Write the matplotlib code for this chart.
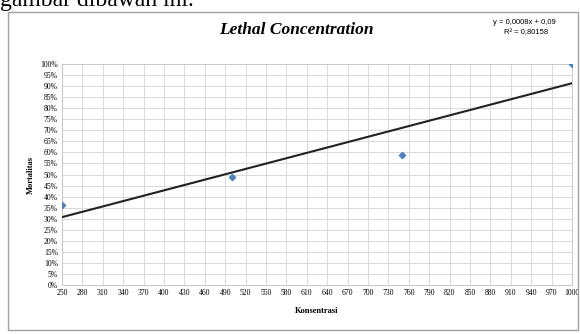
import matplotlib.pyplot as plt
from matplotlib.patches import Rectangle
import numpy as np

# Daten
konsentrasi = [250, 500, 750, 1000]
mortalitas = [0.36, 0.49, 0.59, 1.00]

x_ticks = list(range(250, 1000, 30)) + [1000]
y_ticks = [i / 100 for i in range(0, 101, 5)]

fig = plt.figure(figsize=(5.8, 3.34), dpi=100)

# abgeschnittene Textzeile oben
fig.text(0.0, 1 - 6 / 334, 'gambar dibawah ini.', fontsize=17, family='Liberation Serif',
         ha='left', va='baseline')

# Rahmen des Diagramms
fig.patches.append(Rectangle((8 / 580, 1 - 330 / 334), 570 / 580, 318 / 334,
                             transform=fig.transFigure, fill=False,
                             edgecolor='#a0a0a0', linewidth=1))

ax = fig.add_axes([62 / 580, 1 - 285 / 334, 510 / 580, 221 / 334])

# Trendlinie
m, b = np.polyfit(konsentrasi, mortalitas, 1)
xs = np.array([250, 1000])
ax.plot(xs, m * xs + b, color='#222222', linewidth=1.5, zorder=3)

ax.scatter(konsentrasi, mortalitas, marker='D', s=10, color='#4f81bd', zorder=4)

ax.set_xlim(250, 1000)
ax.set_ylim(0, 1)
ax.set_xticks(x_ticks)
ax.set_yticks(y_ticks)
ax.set_xticklabels([str(t) for t in x_ticks], fontsize=5.5, family='Liberation Serif')
ax.set_yticklabels([f'{int(round(t * 100))}%' for t in y_ticks], fontsize=5.5,
                   family='Liberation Serif')
ax.tick_params(length=0, pad=3)
ax.grid(True, color='#d9d9d9', linewidth=0.7)
for s in ax.spines.values():
    s.set_color('#c8c8c8')
    s.set_linewidth(0.7)

ax.set_xlabel('Konsentrasi', fontsize=6, fontweight='bold', family='Liberation Serif',
              labelpad=7)
ax.set_ylabel('Mortalitas', fontsize=6, fontweight='bold', family='Liberation Serif',
              labelpad=4)

fig.text(296 / 580, 1 - 30 / 334, 'Lethal Concentration', fontsize=12.5, fontweight='bold',
         style='italic', family='Liberation Serif', ha='center', va='center')
fig.text(524 / 580, 1 - 22 / 334, 'y = 0,0008x + 0,09', fontsize=5.5,
         family='Liberation Sans', ha='center', va='center')
fig.text(526 / 580, 1 - 33 / 334, 'R² = 0,80158', fontsize=5.5,
         family='Liberation Sans', ha='center', va='center')

fig.savefig('out.png', dpi=100)
